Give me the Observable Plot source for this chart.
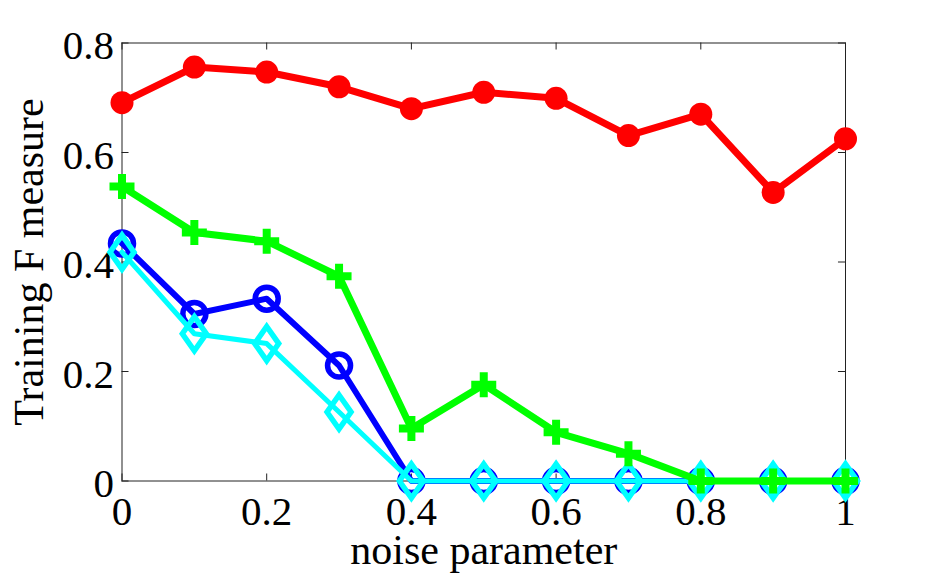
<!DOCTYPE html>
<html>
<head>
<meta charset="utf-8">
<script src="https://cdn.jsdelivr.net/npm/d3@7"></script>
<script src="https://cdn.jsdelivr.net/npm/@observablehq/plot@0.6"></script>
<style>
  html, body { margin: 0; padding: 0; background: #fff; }
  #chart svg { display: block; }
</style>
</head>
<body>
<div id="chart"></div>
<script>
const noise = [0, 0.1, 0.2, 0.3, 0.4, 0.5, 0.6, 0.7, 0.8, 0.9, 1.0];
const redF   = [0.691, 0.756, 0.747, 0.720, 0.680, 0.710, 0.699, 0.631, 0.670, 0.527, 0.625];
const greenF = [0.538, 0.454, 0.438, 0.374, 0.096, 0.176, 0.089, 0.050, 0, 0, 0];
const blueF  = [0.434, 0.305, 0.333, 0.211, 0, 0, 0, 0, 0, 0, 0];
const cyanF  = [0.418, 0.269, 0.251, 0.126, 0, 0, 0, 0, 0, 0, 0];

const xTicks = [0, 0.2, 0.4, 0.6, 0.8, 1];
const xTickLabels = ["0", "0.2", "0.4", "0.6", "0.8", "1"];
const yTicks = [0, 0.2, 0.4, 0.6, 0.8];
const yTickLabels = ["0", "0.2", "0.4", "0.6", "0.8"];
const xLabel = "noise parameter";
const yLabel = "Training F measure";

const toRows = (vals) => noise.map((x, i) => ({x, y: vals[i]}));

const diamond = {
  draw(ctx, size) {
    const r = Math.sqrt(size / Math.PI);
    const hh = r * 1.42;
    ctx.moveTo(0, -hh); ctx.lineTo(r, 0); ctx.lineTo(0, hh); ctx.lineTo(-r, 0); ctx.closePath();
  }
};
const plus = {
  draw(ctx, size) {
    const r = Math.sqrt(size / Math.PI);
    ctx.moveTo(-r, 0); ctx.lineTo(r, 0); ctx.moveTo(0, -r); ctx.lineTo(0, r);
  }
};

const chart = Plot.plot({
  width: 934,
  height: 573,
  marginLeft: 121.5,
  marginRight: 89,
  marginTop: 42.5,
  marginBottom: 92.5,
  x: {domain: [0, 1], axis: null},
  y: {domain: [0, 0.8], axis: null},
  style: {fontFamily: "'Liberation Serif', 'Times New Roman', serif", background: "#fff", overflow: "visible"},
  marks: [
    Plot.frame({stroke: "#222", strokeWidth: 1}),
    // inward ticks (bottom, top, left, right)
    Plot.ruleX(xTicks, {x: d => d, y1: 0, y2: 0.0128, stroke: "#222", strokeWidth: 1}),
    Plot.ruleX(xTicks, {x: d => d, y1: 0.8, y2: 0.8 - 0.0128, stroke: "#222", strokeWidth: 1}),
    Plot.ruleY(yTicks, {y: d => d, x1: 0, x2: 0.0097, stroke: "#222", strokeWidth: 1}),
    Plot.ruleY(yTicks, {y: d => d, x1: 1, x2: 1 - 0.0097, stroke: "#222", strokeWidth: 1}),
    // tick labels
    Plot.text(xTicks, {x: d => d, y: 0, text: (d, i) => xTickLabels[i], dy: 31, fontSize: 41, fill: "#000", lineAnchor: "middle"}),
    Plot.text(yTicks, {x: 0, y: d => d, text: (d, i) => yTickLabels[i], dx: -8, dy: 3, textAnchor: "end", fontSize: 41, fill: "#000", lineAnchor: "middle"}),
    // axis labels
    Plot.text([xLabel], {frameAnchor: "bottom", text: d => d, dy: 70, fontSize: 42, fill: "#000", textAnchor: "middle", lineAnchor: "middle"}),
    Plot.text([yLabel], {frameAnchor: "left", text: d => d, dx: -92, rotate: -90, fontSize: 42, fill: "#000", textAnchor: "middle", lineAnchor: "middle"}),
    // blue series
    Plot.line(toRows(blueF), {x: "x", y: "y", stroke: "#0000ff", strokeWidth: 6, strokeLinejoin: "round"}),
    Plot.dot(toRows(blueF), {x: "x", y: "y", r: 11.5, stroke: "#0000ff", strokeWidth: 5.5, fill: "none"}),
    // cyan series
    Plot.line(toRows(cyanF), {x: "x", y: "y", stroke: "#00ffff", strokeWidth: 5, strokeLinejoin: "round"}),
    Plot.dot(toRows(cyanF), {x: "x", y: "y", r: 12, symbol: diamond, stroke: "#00ffff", strokeWidth: 5.5, fill: "none", strokeLinejoin: "miter"}),
    // green series
    Plot.line(toRows(greenF), {x: "x", y: "y", stroke: "#00ff00", strokeWidth: 7, strokeLinejoin: "round"}),
    Plot.dot(toRows(greenF), {x: "x", y: "y", r: 12.5, symbol: plus, stroke: "#00ff00", strokeWidth: 8, fill: "none", strokeLinecap: "butt"}),
    // red series
    Plot.line(toRows(redF), {x: "x", y: "y", stroke: "#ff0000", strokeWidth: 7, strokeLinejoin: "round"}),
    Plot.dot(toRows(redF), {x: "x", y: "y", r: 11.5, fill: "#ff0000", stroke: "none"})
  ]
});
document.getElementById("chart").appendChild(chart);
</script>
</body>
</html>
